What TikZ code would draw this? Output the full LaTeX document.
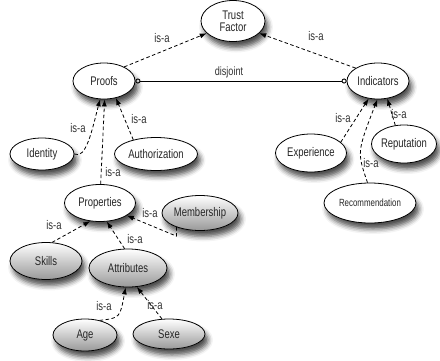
\documentclass[tikz,border=0pt]{standalone}
\usepackage{fontspec}
\setmainfont{Liberation Sans}[FakeStretch=0.76]
\usetikzlibrary{shapes.geometric,arrows.meta,shadows.blur}
\begin{document}
\begin{tikzpicture}[x=1pt,y=-1pt,
  concept/.style={ellipse,draw=black,line width=0.8pt,fill=white,inner sep=0pt,
    font=\fontsize{12.5}{13}\selectfont,text=black!85,
    blur shadow={shadow xshift=3pt,shadow yshift=-6pt,shadow blur radius=5pt,shadow opacity=70}},
  graycon/.style={concept,top color=white,bottom color=black!40},
  isa/.style={dash pattern=on 3.5pt off 2.5pt,line width=0.8pt,-{Latex[length=7pt,width=5pt]}},
  lbl/.style={font=\fontsize{12.5}{13}\selectfont,text=black!80,inner sep=0pt}]
\useasboundingbox (0,0) rectangle (440,360);

% concepts
\node[concept,minimum width=64pt,minimum height=41pt,align=center] (trust) at (233,21) {Trust\\[-1pt]Factor};
\node[concept,minimum width=62pt,minimum height=36pt] (proofs) at (104,81) {Proofs};
\node[concept,minimum width=62pt,minimum height=36pt] (indic) at (378,81) {Indicators};
\node[concept,minimum width=64pt,minimum height=32pt] (identity) at (42,154) {Identity};
\node[concept,minimum width=83pt,minimum height=33pt] (author) at (156,154) {Authorization};
\node[concept,minimum width=71pt,minimum height=38pt] (exper) at (311,153) {Experience};
\node[concept,minimum width=59pt,minimum height=38pt] (reput) at (404,144) {Reputation};
\node[concept,minimum width=92pt,minimum height=40pt,font=\fontsize{10.4}{11}\selectfont] (recomm) at (370,203) {Recommendation};
\node[concept,minimum width=71pt,minimum height=37pt] (props) at (100,203) {Properties};
\node[graycon,minimum width=76pt,minimum height=35pt] (member) at (200,213) {Membership};
\node[graycon,minimum width=72pt,minimum height=37pt] (skills) at (46,261) {Skills};
\node[graycon,minimum width=78pt,minimum height=38pt] (attrs) at (128,268) {Attributes};
\node[graycon,minimum width=64pt,minimum height=32pt] (age) at (85,335) {Age};
\node[graycon,minimum width=72pt,minimum height=30pt] (sexe) at (169,334) {Sexe};

% disjointness between the two top-level kinds
\draw[line width=0.9pt,{Circle[open,length=5pt]}-{Circle[open,length=5pt]}] (proofs.east) -- (indic.west);
\node[lbl,font=\fontsize{12}{13}\selectfont] (ldis) at (229,72) {disjoint};

% is-a relations
\draw[isa] (proofs.35) -- (trust.205);
\draw[isa] (indic.150) -- (trust.-25);
\draw[isa] (identity.east) .. controls (86,160) and (92,130) .. (proofs.-102);
\draw[isa] (props.88) -- (proofs.-88);
\draw[isa] (author.148) -- (proofs.-55);
\draw[isa] (exper.20) -- (indic.-118);
\draw[isa] (recomm.97) .. controls (357,152) .. (indic.-92);
\draw[isa] (reput.115) -- (indic.-62);
\draw[isa] (skills.72) -- (props.-118);
\draw[isa] (attrs.100) -- (props.-70);
\draw[isa] (member.-149) -- ++(0,9) -- (props.-25);
\draw[isa] (age.45) .. controls (120,318) .. (attrs.-97);
\draw[isa] (sexe.115) -- (attrs.-65);

% labels
\node[lbl] (l1) at (162,38) {is-a};
\node[lbl] (l2) at (316,36) {is-a};
\node[lbl] (l3) at (78,128) {is-a};
\node[lbl] (l4) at (113,172) {is-a};
\node[lbl] (l5) at (139,119) {is-a};
\node[lbl] (l6) at (343,118) {is-a};
\node[lbl] (l7) at (371,163) {is-a};
\node[lbl] (l8) at (399,114) {is-a};
\node[lbl] (l9) at (54,225) {is-a};
\node[lbl] (l10) at (135,239) {is-a};
\node[lbl] (l11) at (150,213) {is-a};
\node[lbl] (l12) at (104,306) {is-a};
\node[lbl] (l13) at (155,305) {is-a};
\end{tikzpicture}
\end{document}
